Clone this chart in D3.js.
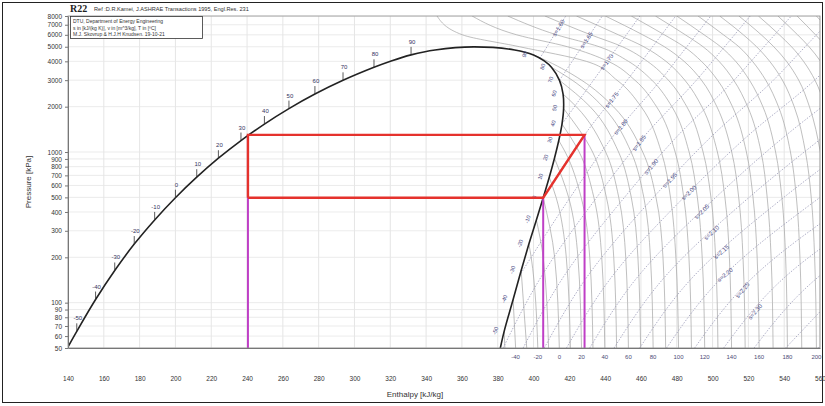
<!DOCTYPE html>
<html>
<head>
<meta charset="utf-8">
<script src="https://cdn.jsdelivr.net/npm/d3@7"></script>
<style>
  body { margin: 0; background: #fff; }
  svg { display: block; font-family: "Liberation Sans", Arial, sans-serif; }
</style>
</head>
<body>
<svg id="chart" width="825" height="406"></svg>
<script>
// R22 log p-h diagram with a single-stage vapour compression cycle

// axis ticks
const pressureTicks = [50, 60, 70, 80, 90, 100, 200, 300, 400, 500, 600, 700, 800, 900,
                       1000, 2000, 3000, 4000, 5000, 6000, 7000, 8000];
const enthalpyTicks = [140, 160, 180, 200, 220, 240, 260, 280, 300, 320, 340, 360, 380,
                       400, 420, 440, 460, 480, 500, 520, 540, 560];

// saturation curve (T in °C, p in kPa, h in kJ/kg)
const satT = [-55, -50, -40, -30, -20, -10, 0, 10, 20, 30, 40, 50, 60, 70, 80, 85, 90, 94, 96.15];
const satP = [49.6, 64.5, 104.9, 163.5, 244.8, 354.3, 497.6, 680.7, 909.9, 1191.9, 1533.5,
              1942.3, 2426.0, 2992.9, 3652.0, 4023, 4415, 4762, 4990];
const satHLiquid = [139.5, 144.9, 155.4, 166.1, 177.0, 188.4, 200.0, 211.9, 224.0, 236.6, 249.7,
                    263.4, 277.9, 293.6, 310.9, 320.5, 331.6, 345.0, 366.6];
const satHVapour = [381.4, 383.6, 388.6, 393.1, 397.4, 401.6, 405.4, 408.8, 411.7, 414.1, 415.9,
                    416.8, 416.5, 414.5, 410.0, 406.0, 400.0, 389.5, 366.6];
const satLabelTemps = [-50, -40, -30, -20, -10, 0, 10, 20, 30, 40, 50, 60, 70, 80, 90];

// isotherms in the vapour region: h at the pressures of isoP (null = inside the dome)
const isoTemps = [-50, -40, -30, -20, -10, 0, 10, 20, 30, 40, 50, 60, 70, 80, 90, 100, 110, 120,
                  130, 140, 150, 160, 170, 180, 190, 200, 210, 220, 230, 240, 250];
const isoP = [50, 200, 500, 1000, 2000, 3000, 4000, 5000, 6000, 8000];
const isoH = [
  [384.0, null, null, null, null, null, null, null, null, null],
  [390.0, null, null, null, null, null, null, null, null, null],
  [396.2, null, null, null, null, null, null, null, null, null],
  [402.4, 398.7, null, null, null, null, null, null, null, null],
  [408.4, 405.4, null, null, null, null, null, null, null, null],
  [414.4, 411.8, null, null, null, null, null, null, null, null],
  [420.6, 418.3, 412.6, null, null, null, null, null, null, null],
  [426.8, 424.8, 419.6, null, null, null, null, null, null, null],
  [433.2, 431.4, 426.6, 417.7, null, null, null, null, null, null],
  [439.8, 438.1, 433.7, 425.5, null, null, null, null, null, null],
  [446.4, 444.8, 440.7, 433.0, null, null, null, null, null, null],
  [453.0, 451.5, 447.6, 440.3, 423.9, null, null, null, null, null],
  [459.8, 458.3, 454.6, 447.5, 431.6, null, null, null, null, null],
  [466.8, 465.3, 461.6, 454.5, 438.7, 421.6, null, null, null, null],
  [473.8, 472.3, 468.4, 461.0, 444.6, 426.8, 408.0, null, null, null],
  [481.0, 479.5, 476.5, 471.4, 460.1, 446.6, 429.5, 392.2, 360.3, 346.1],
  [488.2, 486.8, 483.9, 479.1, 468.7, 456.6, 441.7, 419.0, 390.6, 365.7],
  [495.6, 494.2, 491.5, 486.9, 477.3, 466.1, 453.0, 436.7, 412.9, 385.6],
  [503.0, 501.7, 499.1, 494.7, 485.6, 475.3, 463.6, 449.7, 432.0, 406.4],
  [510.6, 509.4, 506.9, 502.7, 494.0, 484.5, 474.0, 461.6, 447.4, 424.0],
  [518.2, 517.0, 514.6, 510.7, 502.4, 493.8, 484.1, 473.1, 461.0, 440.1],
  [526.0, 524.9, 522.6, 518.9, 511.1, 502.8, 493.8, 484.1, 473.1, 454.6],
  [533.8, 532.7, 530.5, 527.1, 519.6, 511.8, 503.6, 494.7, 484.8, 468.1],
  [541.8, 540.8, 538.7, 535.2, 528.1, 520.6, 512.9, 504.5, 495.3, 480.0],
  [549.8, 548.8, 546.8, 543.5, 536.8, 529.7, 522.3, 514.7, 506.1, 491.9],
  [558.0, 557.0, 555.1, 551.9, 545.6, 539.0, 531.9, 524.6, 517.2, 504.0],
  [566.2, 565.2, 563.4, 560.2, 554.1, 548.1, 541.3, 534.2, 527.2, 514.7],
  [574.6, 573.6, 571.9, 568.8, 562.9, 557.2, 550.8, 544.1, 537.3, 525.6],
  [583.0, 582.0, 580.4, 577.4, 571.6, 566.3, 560.3, 553.9, 547.5, 536.5],
  [591.6, 590.6, 589.0, 586.1, 580.6, 575.6, 569.6, 563.6, 557.5, 547.2],
  [600.2, 599.2, 597.6, 594.9, 589.5, 584.6, 578.9, 573.2, 567.5, 558.0]
];
const isoLabelTemps = [-40, -20, 0, 20, 40, 60, 80, 100, 120, 140, 160, 180, 200];

// isentropes: start on the dome (or the bottom edge), then h at the pressures of isenP
const isenS = [1.60, 1.65, 1.70, 1.75, 1.80, 1.85, 1.90, 1.95, 2.00, 2.05, 2.10, 2.15, 2.20,
               2.25, 2.30, 2.35, 2.40, 2.45];
const isenStartH = [403.5, 414.5, 415.9, 405.4, 392.0, null, null, null, null, null, null, null,
                    null, null, null, null, null, null];
const isenStartP = [4180, 2993, 1533.5, 497.6, 150, null, null, null, null, null, null, null,
                    null, null, null, null, null, null];
const isenP = [50, 150, 500, 1300, 3000, 5000, 8000];
const isenH = [
  [null, null, null, null, null, 407.5, 418.0],
  [null, null, null, null, null, 427.0, 438.4],
  [null, null, null, null, 433.5, 447.0, 459.4],
  [null, null, null, 428.5, 452.3, 466.5, 479.4],
  [null, null, 420.5, 445.0, 471.0, 485.6, 499.0],
  [383.0, 404.5, 435.3, 462.5, 491.0, 506.7, 521.0],
  [394.2, 417.0, 450.8, 481.0, 512.0, 528.7, 544.0],
  [406.0, 430.2, 467.0, 500.3, 534.0, 551.7, 568.0],
  [418.4, 444.0, 484.0, 520.3, 557.0, 575.7, 593.0],
  [431.4, 458.5, 501.8, 541.3, 581.0, null, null],
  [445.0, 473.7, 520.4, 563.3, null, null, null],
  [459.3, 489.5, 539.8, 586.3, null, null, null],
  [474.3, 506.0, 560.0, 610.0, null, null, null],
  [490.0, 523.2, 581.0, null, null, null, null],
  [506.2, 541.0, 603.0, null, null, null, null],
  [523.2, 559.6, 626.0, null, null, null, null],
  [540.8, 578.9, null, null, null, null, null],
  [559.1, 598.7, null, null, null, null, null]
];
const isenLabelP = [6674, 5540, 3964, 2215, 1466, 1149, 800, 650, 537, 402, 291, 217, 153, 121, 87,
                    null, null, null];

// refrigeration cycle: evaporation 0 °C, condensation 1300 kPa, isentropic compression
const cycleH = [240.5, 405.4, 428.5, 240.5, 240.5];
const cycleP = [497.6, 497.6, 1300, 1300, 497.6];
const dropH = [240.5, 405.4, 428.5];
const dropP = [1300, 497.6, 1300];

// ---------------------------------------------------------------------------
const svg = d3.select("#chart");
const x = d3.scaleLinear().domain([140, 560]).range([68, 820]);
const y = d3.scaleLog().domain([50, 8000]).range([348, 16]);

svg.append("rect").attr("width", 825).attr("height", 406).attr("fill", "#fff");
svg.append("rect").attr("x", 2.5).attr("y", 2.5).attr("width", 820).attr("height", 400)
  .attr("fill", "none").attr("stroke", "#222").attr("stroke-width", 1);

svg.append("defs").append("clipPath").attr("id", "plotArea")
  .append("rect").attr("x", 68).attr("y", 16).attr("width", 752).attr("height", 332);

const plot = svg.append("g").attr("clip-path", "url(#plotArea)");

// grid
plot.append("g").selectAll("line").data(enthalpyTicks).join("line")
  .attr("x1", d => x(d)).attr("x2", d => x(d)).attr("y1", 16).attr("y2", 348)
  .attr("stroke", "#dedede").attr("stroke-width", 0.8);
plot.append("g").selectAll("line").data(pressureTicks).join("line")
  .attr("x1", 68).attr("x2", 820).attr("y1", d => y(d)).attr("y2", d => y(d))
  .attr("stroke", "#e6e6e6").attr("stroke-width", 0.8);

const satIndex = t => satT.indexOf(t);
const line = d3.line().x(d => x(d[0])).y(d => y(d[1]));

// isotherms
isoTemps.forEach((t, k) => {
  const pts = [];
  isoP.forEach((p, i) => { if (isoH[k][i] !== null) pts.push([isoH[k][i], p]); });
  const si = satIndex(t);
  if (si >= 0) pts.push([satHVapour[si], satP[si]]);
  plot.append("path").datum(pts)
    .attr("d", line.curve(d3.curveMonotoneY))
    .attr("fill", "none").attr("stroke", "#a4a4a4").attr("stroke-width", 0.7);
});

// isentropes
const isenPts = isenS.map((s, k) => {
  const pts = [];
  if (isenStartH[k] !== null) pts.push([isenStartH[k], isenStartP[k]]);
  isenP.forEach((p, i) => {
    if (isenH[k][i] !== null && (isenStartP[k] === null || p > isenStartP[k] * 1.05)) pts.push([isenH[k][i], p]);
  });
  return pts;
});
isenPts.forEach(pts => {
  plot.append("path").datum(pts)
    .attr("d", line.curve(d3.curveMonotoneY))
    .attr("fill", "none").attr("stroke", "#9494b4").attr("stroke-width", 0.75)
    .attr("stroke-dasharray", "1.5,1.5");
});

// isentrope labels, placed on each line at the label pressure
isenS.forEach((s, k) => {
  const lp = isenLabelP[k];
  if (lp === null) return;
  const pts = isenPts[k];
  for (let i = 0; i < pts.length - 1; i++) {
    const [h0, p0] = pts[i], [h1, p1] = pts[i + 1];
    if (lp >= p0 && lp <= p1) {
      const f = Math.log(lp / p0) / Math.log(p1 / p0);
      const hx = h0 + f * (h1 - h0);
      const px = x(hx), py = y(lp);
      const ang = Math.atan2(y(p1) - y(p0), x(h1) - x(h0)) * 180 / Math.PI;
      plot.append("text").attr("transform", `translate(${px},${py}) rotate(${ang})`)
        .attr("text-anchor", "middle").attr("dy", "0.35em")
        .attr("font-size", 6).attr("fill", "#4c4c86").text("s=" + s.toFixed(2));
      break;
    }
  }
});

// saturation dome
const domePts = satT.map((t, i) => [satHLiquid[i], satP[i]])
  .concat(satT.map((t, i) => [satHVapour[i], satP[i]]).reverse().slice(1));
plot.append("path").datum(domePts)
  .attr("d", line.curve(d3.curveCatmullRom.alpha(0.5)))
  .attr("fill", "none").attr("stroke", "#222").attr("stroke-width", 1.6);

// liquid-side temperature ticks and labels
satLabelTemps.forEach(t => {
  const i = satIndex(t);
  const px = x(satHLiquid[i]), py = y(satP[i]);
  plot.append("line").attr("x1", px).attr("x2", px).attr("y1", py).attr("y2", py - 8)
    .attr("stroke", "#333").attr("stroke-width", 0.8);
  plot.append("text").attr("x", px + 1).attr("y", py - 11).attr("text-anchor", "middle")
    .attr("font-size", 6).attr("fill", "#34345e").text(t);
});

// vapour-side temperature labels
satLabelTemps.forEach(t => {
  const i = satIndex(t);
  const px = x(satHVapour[i]) - 7, py = y(satP[i]);
  plot.append("text").attr("transform", `translate(${px},${py}) rotate(-72)`)
    .attr("text-anchor", "middle").attr("font-size", 5.5).attr("fill", "#4c4c86").text(t);
});

// cycle
plot.append("g").selectAll("line").data(dropH).join("line")
  .attr("x1", d => x(d)).attr("x2", d => x(d))
  .attr("y1", (d, i) => y(dropP[i])).attr("y2", 348)
  .attr("stroke", "#bf3fc6").attr("stroke-width", 2);
plot.append("path").datum(cycleH.map((h, i) => [h, cycleP[i]]))
  .attr("d", line.curve(d3.curveLinear))
  .attr("fill", "none").attr("stroke", "#e5322d").attr("stroke-width", 2.4)
  .attr("stroke-linejoin", "miter");

// plot frame
svg.append("rect").attr("x", 68).attr("y", 16).attr("width", 752).attr("height", 332)
  .attr("fill", "none").attr("stroke", "#8a8a8a").attr("stroke-width", 0.8);

// isotherm labels under the plot
svg.append("g").selectAll("text").data(isoLabelTemps).join("text")
  .attr("x", t => Math.min(x(isoH[isoTemps.indexOf(t)][0]), 818))
  .attr("y", 359).attr("text-anchor", "middle")
  .attr("font-size", 6).attr("fill", "#4c4c76").text(t => t);

// axes
const yAxis = svg.append("g").attr("transform", "translate(68,0)")
  .call(d3.axisLeft(y).tickValues(pressureTicks).tickFormat(d3.format("d"))
    .tickSizeInner(3).tickSizeOuter(0).tickPadding(3));
yAxis.select(".domain").attr("stroke", "#777");
yAxis.selectAll(".tick line").attr("stroke", "#777");
yAxis.selectAll("text").attr("font-size", 6.5).attr("fill", "#333")
  .attr("font-family", "Liberation Sans, Arial, sans-serif");

const xAxis = svg.append("g").attr("transform", "translate(0,348)")
  .call(d3.axisBottom(x).tickValues(enthalpyTicks).tickFormat(d3.format("d"))
    .tickSizeInner(0).tickSizeOuter(0).tickPadding(28));
xAxis.select(".domain").attr("stroke", "#777");
xAxis.selectAll("text").attr("font-size", 6.5).attr("fill", "#333")
  .attr("font-family", "Liberation Sans, Arial, sans-serif");

// axis titles
svg.append("text").attr("transform", "translate(31,182) rotate(-90)")
  .attr("text-anchor", "middle").attr("font-size", 8).attr("fill", "#333").text("Pressure [kPa]");
svg.append("text").attr("x", 415).attr("y", 397)
  .attr("text-anchor", "middle").attr("font-size", 8).attr("fill", "#333").text("Enthalpy [kJ/kg]");

// header
svg.append("text").attr("x", 70).attr("y", 12).attr("font-size", 10).attr("font-weight", "bold")
  .attr("font-family", "Liberation Serif, serif").attr("fill", "#222").text("R22");
svg.append("text").attr("x", 94).attr("y", 11).attr("font-size", 5.6).attr("fill", "#333")
  .text("Ref :D.R.Kamei, J.ASHRAE Transactions 1995, Engl.Res. 231");
svg.append("rect").attr("x", 70.5).attr("y", 16.5).attr("width", 132).attr("height", 22)
  .attr("fill", "#fff").attr("stroke", "#333").attr("stroke-width", 0.8);
const info = ["DTU, Department of Energy Engineering",
              "s in [kJ/(kg K)], v in [m^3/kg], T in [ºC]",
              "M.J. Skovrup & H.J.H Knudsen. 19-10-21"];
info.forEach((t, i) => svg.append("text").attr("x", 73).attr("y", 23 + i * 6.5)
  .attr("font-size", 5).attr("fill", "#333").text(t));
</script>
</body>
</html>
